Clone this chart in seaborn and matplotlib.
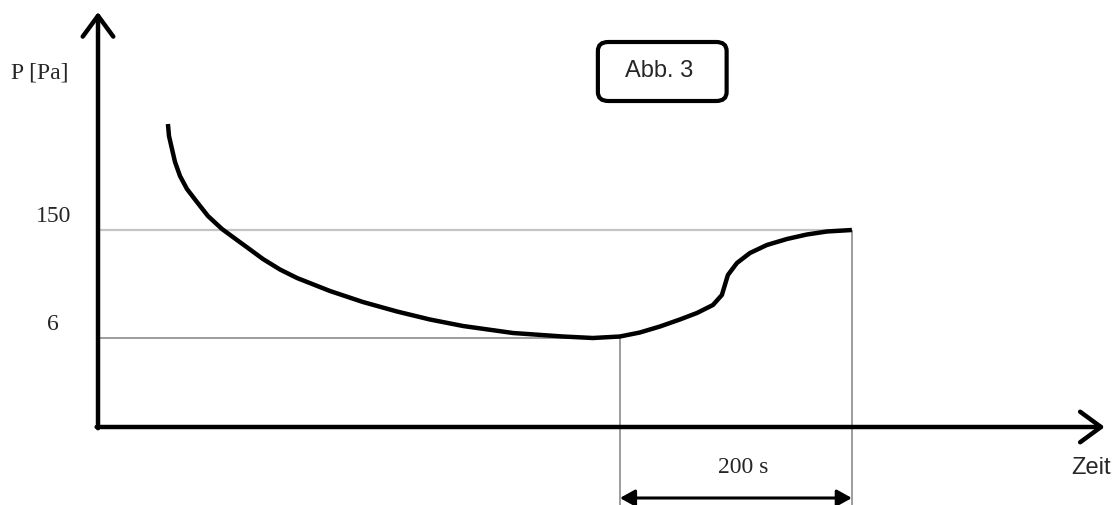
import matplotlib
matplotlib.use("Agg")
import matplotlib.pyplot as plt
import pandas as pd
import seaborn as sns
from matplotlib.patches import FancyBboxPatch

# Schematic pressure curve (time in s, pressure in schematic units)
time_s = [60.3, 61.2, 63.8, 66.4, 70.7, 76.7, 85.3, 94.8, 106.9, 119.8,
          129.3, 142.2, 156.9, 171.6, 200.0, 228.4, 257.8, 286.2, 314.7,
          357.8, 400.9, 426.7, 450.0, 467.2, 484.5, 501.7, 516.4, 530.2,
          537.9, 540.5, 543.1, 550.9, 562.1, 576.7, 594.0, 611.2, 628.4, 650.0]
pressure = [303, 291, 278, 265, 251, 238, 225, 211, 198, 187,
            179, 168, 157.5, 149, 136, 125, 115.5, 107.5, 101,
            94, 90.5, 89, 90.5, 94.5, 100.5, 107.5, 114, 122,
            132, 142, 152, 164, 174, 182, 188, 192.5, 195.5, 197]

level_hi = 197      # "150" level
level_lo = 89       # "6" level
t_start = 450.0     # start of 200 s interval
t_end = 650.0       # end of 200 s interval
tick_labels = ["150", "6"]

df = pd.DataFrame({"t": time_s, "p": pressure})

sns.set_style("white")
serif = "Liberation Serif"
sans = "Liberation Sans"

fig = plt.figure(figsize=(11.14, 5.06), dpi=100)
ax = fig.add_axes([0, 0, 1, 1])
ax.set_xlim(-84.5, 876.0)
ax.set_ylim(-78, 428)
ax.axis("off")

# helper lines
ax.hlines(level_hi, 0, t_end, color="#c4c4c4", lw=1.6, zorder=1)
ax.hlines(level_lo, 0, t_start, color="#8c8c8c", lw=1.2, zorder=1)
ax.vlines(t_start, -78, level_lo, color="#8c8c8c", lw=1.2, zorder=1)
ax.vlines(t_end, -78, level_hi, color="#8c8c8c", lw=1.2, zorder=1)

# curve
sns.lineplot(data=df, x="t", y="p", sort=False, color="black", lw=3.2,
             ax=ax, zorder=3, solid_joinstyle="round", solid_capstyle="butt")

# axes arrows
arrow_kw = dict(arrowstyle="->,head_length=0.75,head_width=0.55",
                lw=3.2, color="black", mutation_scale=20,
                shrinkA=0, shrinkB=0)
ax.annotate("", xy=(868, 0), xytext=(-1.2, 0), arrowprops=arrow_kw)
ax.annotate("", xy=(0, 415), xytext=(0, -1.2), arrowprops=arrow_kw)

# 200 s dimension arrow
ax.annotate("", xy=(t_end, -71), xytext=(t_start, -71),
            arrowprops=dict(arrowstyle="<|-|>,head_length=0.45,head_width=0.25",
                            lw=2.2, color="black", mutation_scale=20,
                            shrinkA=0, shrinkB=0))

# labels
ax.text(-50, 350, "P [Pa]", family=serif, fontsize=17, ha="center", va="baseline")
ax.text(-38.5, 206, tick_labels[0], family=serif, fontsize=17, ha="center", va="baseline")
ax.text(-39, 98, tick_labels[1], family=serif, fontsize=17, ha="center", va="baseline")
ax.text(556, -45, "200 s", family=serif, fontsize=17, ha="center", va="baseline")
ax.text(856, -46, "Zeit", family=sans, fontsize=17, ha="center", va="baseline")

# Abb. 3 box
box = FancyBboxPatch((431, 326), 111, 59,
                     boxstyle="round,pad=0,rounding_size=9",
                     fc="white", ec="black", lw=3, zorder=4)
ax.add_patch(box)
ax.text(483.6, 351, "Abb. 3", family=sans, fontsize=17, ha="center",
        va="baseline", zorder=5)

fig.savefig("out.png", dpi=100)
